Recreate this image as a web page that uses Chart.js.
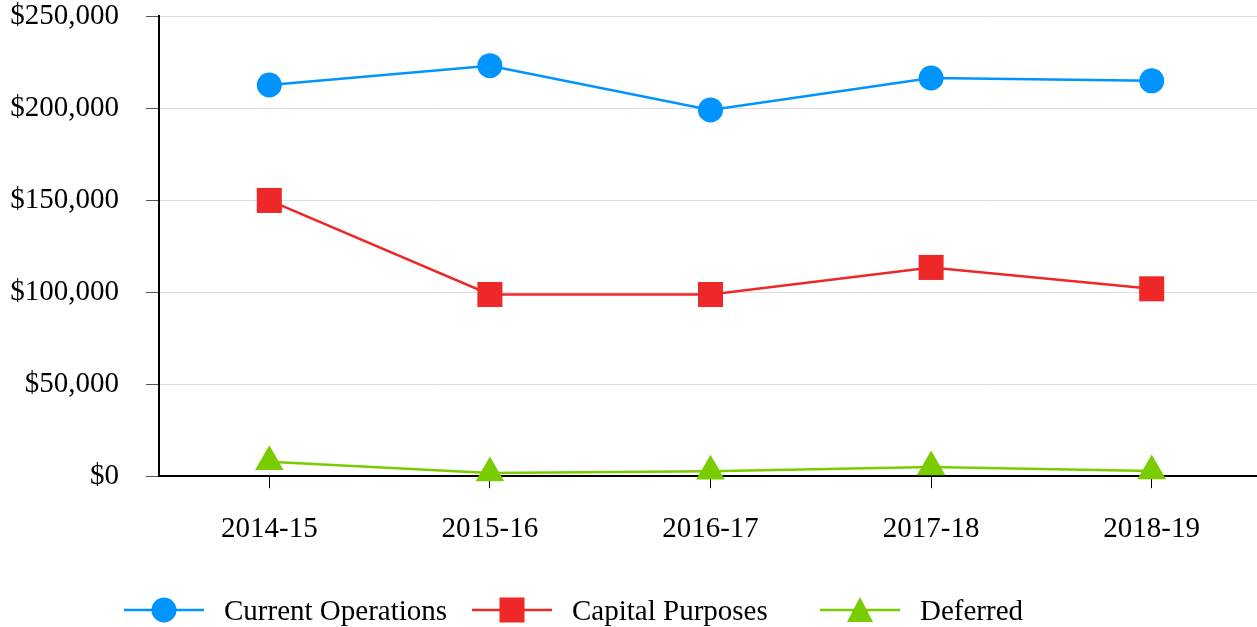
<!DOCTYPE html>
<html>
<head>
<meta charset="utf-8">
<script src="https://cdn.jsdelivr.net/npm/chart.js@4/dist/chart.umd.min.js"></script>
<style>
  html, body { margin: 0; padding: 0; background: #fff; overflow: hidden; width: 1257px; height: 627px; }
  #wrap { position: absolute; left: 0; top: 0; width: 1262px; height: 627px; }
  #legend { position: absolute; left: 124px; top: 590px; height: 40px; display: flex; font-family: "Liberation Serif", "Times New Roman", serif; font-size: 29px; color: #000; }
  .item { width: 348px; display: flex; align-items: center; white-space: nowrap; }
  .item svg { flex: none; margin-right: 20px; }
</style>
</head>
<body>
<div id="wrap"><canvas id="c" width="1262" height="627"></canvas></div>
<div id="legend"></div>
<script>
const categories = ['2014-15', '2015-16', '2016-17', '2017-18', '2018-19'];
const seriesNames = ['Current Operations', 'Capital Purposes', 'Deferred'];
const currentOperations = [212500, 223000, 199000, 216300, 214800];
const capitalPurposes = [149800, 98700, 98700, 113400, 101800];
const deferred = [7900, 1800, 2700, 5000, 2800];
const yTickValues = [0, 50000, 100000, 150000, 200000, 250000];

const BLUE = 'rgb(0,148,255)';
const RED = 'rgb(238,40,40)';
const GREEN = 'rgb(120,204,0)';
const FONT = '"Liberation Serif", "Times New Roman", serif';

const styles = [
  { color: BLUE, pointStyle: 'circle', radius: 12.5 },
  { color: RED, pointStyle: 'rect', radius: 17.7 },
  { color: GREEN, pointStyle: 'triangle', radius: 16.5 }
];
const seriesValues = [currentOperations, capitalPurposes, deferred];

const datasets = seriesNames.map((name, i) => ({
  label: name,
  data: seriesValues[i],
  borderColor: styles[i].color,
  backgroundColor: styles[i].color,
  borderWidth: 2.5,
  pointStyle: styles[i].pointStyle,
  pointRadius: styles[i].radius,
  pointHoverRadius: styles[i].radius,
  pointBorderWidth: 0,
  pointBackgroundColor: styles[i].color,
  tension: 0,
  fill: false,
  clip: false
}));

new Chart(document.getElementById('c'), {
  type: 'line',
  data: { labels: categories, datasets },
  options: {
    responsive: false,
    animation: false,
    events: [],
    layout: { autoPadding: false, padding: { top: 16, right: 0, bottom: 56, left: 0 } },
    plugins: { legend: { display: false }, tooltip: { enabled: false } },
    scales: {
      x: {
        offset: true,
        grid: { offset: false, drawOnChartArea: false, drawTicks: true, tickLength: 12, tickColor: '#000', lineWidth: 1 },
        border: { display: true, color: '#000', width: 2 },
        ticks: { color: '#000', font: { family: FONT, size: 29 }, padding: 24, maxRotation: 0 }
      },
      y: {
        min: 0, max: 250000,
        afterFit(scale) { scale.width = 159; scale.paddingTop = 0; scale.paddingBottom = 0; },
        afterBuildTicks(scale) { scale.ticks = yTickValues.map(v => ({ value: v })); },
        grid: { color: '#dddddd', lineWidth: 1, tickLength: 13, tickColor: '#555' },
        border: { display: true, color: '#000', width: 2 },
        ticks: {
          color: '#000', font: { family: FONT, size: 29 }, padding: 27,
          callback: v => '$' + Number(v).toLocaleString('en-US')
        }
      }
    }
  }
});

// HTML legend with line + marker
const legend = document.getElementById('legend');
seriesNames.forEach((name, i) => {
  const item = document.createElement('div');
  item.className = 'item';
  const c = styles[i].color;
  let marker = '';
  if (styles[i].pointStyle === 'circle') marker = `<circle cx="40" cy="20" r="12.5" fill="${c}"/>`;
  else if (styles[i].pointStyle === 'rect') marker = `<rect x="27.5" y="7.5" width="25" height="25" fill="${c}"/>`;
  else marker = `<polygon points="40,7 53,32 27,32" fill="${c}"/>`;
  item.innerHTML = `<svg width="80" height="40"><line x1="0" y1="20" x2="80" y2="20" stroke="${c}" stroke-width="2.5"/>${marker}</svg><span>${name}</span>`;
  legend.appendChild(item);
});
</script>
</body>
</html>
